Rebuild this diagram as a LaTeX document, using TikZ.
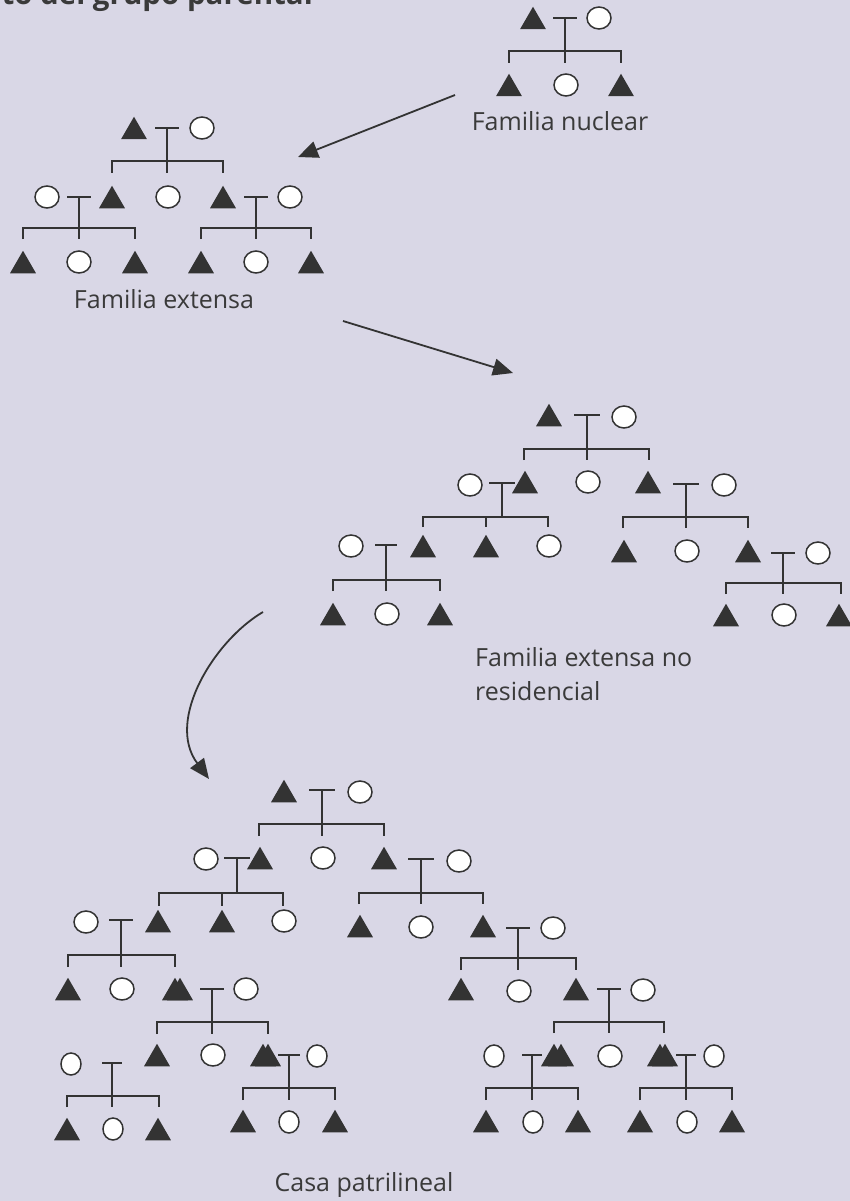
\documentclass[tikz,border=0pt]{standalone}
\usepackage{fontspec}
\setmainfont{Open Sans}
\usetikzlibrary{shapes.geometric,arrows.meta}
\definecolor{bgc}{RGB}{217,215,230}
\definecolor{ink}{RGB}{51,51,51}
\definecolor{txt}{RGB}{58,58,58}
\tikzset{
  x=1pt, y=-1pt,
  man/.style={regular polygon, regular polygon sides=3, minimum size=30pt, inner sep=0pt, fill=ink, yshift=-3.75pt},
  woman/.style={ellipse, minimum width=24pt, minimum height=22pt, inner sep=0pt, draw=ink, line width=1.5pt, fill=white},
  narrow/.style={minimum width=20pt},
  kin/.style={draw=ink, line width=1.8pt},
  arr/.style={draw=ink, line width=1.8pt, -{Triangle[length=20pt,width=17pt]}},
  lbl/.style={font=\fontsize{25}{30}\selectfont, text=txt, inner sep=0pt},
  ttl/.style={font=\fontsize{29.5}{34}\selectfont\bfseries, text=txt, inner sep=0pt}
}
\newcommand\myM[3]{\node[man] (#1) at (#2,#3) {};}
\newcommand\myW[3]{\node[woman] (#1) at (#2,#3) {};}
\newcommand\myWn[3]{\node[woman,narrow] (#1) at (#2,#3) {};}
% Tx Ty halfbar sibY dropY L Mid R
\newcommand\kinfam[8]{%
  \draw[kin] (#1-#3,#2) -- (#1+#3,#2);
  \draw[kin] (#1,#2) -- (#1,#4);
  \draw[kin] (#6,#5) -- (#6,#4) -- (#8,#4) -- (#8,#5);
  \draw[kin] (#7,#4) -- (#7,#5);}
\begin{document}
\begin{tikzpicture}
\useasboundingbox (0,0) rectangle (850,1201);
\fill[bgc] (0,0) rectangle (850,1201);
\clip (0,0) rectangle (850,1201);
\node[ttl, anchor=base east] (title) at (313,5) {Crecimiento del grupo parental};

% ---------- Familia nuclear ----------
\kinfam{565}{18}{12}{51}{63}{509}{565}{621}
\myM{n1}{533}{18} \myW{n2}{599}{18}
\myM{n3}{509}{85} \myW{n4}{566}{85} \myM{n5}{621}{85}
\node[lbl, anchor=base] (ln) at (560,131) {Familia nuclear};

% ---------- Familia extensa ----------
\kinfam{167}{128}{12}{161}{173}{112}{167}{223}
\kinfam{79}{197}{12}{228}{239}{23}{79}{135}
\kinfam{256}{197}{12}{228}{239}{201}{256}{311}
\myM{e1}{134}{128} \myW{e2}{202}{128}
\myM{e3}{112}{197} \myW{e4}{168}{197} \myM{e5}{223}{197}
\myW{e6}{47}{197} \myW{e10}{290}{197}
\myM{e7}{23}{262} \myW{e8}{79}{262} \myM{e9}{135}{262}
\myM{e11}{201}{262} \myW{e12}{256}{262} \myM{e13}{311}{262}
\node[lbl, anchor=base] (le) at (164,308) {Familia extensa};

% ---------- Familia extensa no residencial ----------
\kinfam{587}{415}{13}{449}{460}{524}{587}{649}
\kinfam{502}{483}{13}{517}{527}{423}{486}{548}
\kinfam{386}{545}{11}{580}{591}{333}{386}{440}
\kinfam{686}{484}{13}{517}{528}{623}{686}{748}
\kinfam{783}{553}{12}{583}{594}{726}{783}{841}
\myM{r1}{549}{415} \myW{r2}{624}{417}
\myM{r3}{525}{482} \myW{r4}{588}{482} \myM{r5}{648}{482}
\myW{r6}{470}{485} \myW{r14}{724}{485}
\myM{r7}{423}{546} \myM{r8}{486}{546} \myW{r9}{549}{546}
\myW{r10}{351}{546}
\myM{r11}{333}{614} \myW{r12}{387}{614} \myM{r13}{440}{614}
\myM{r15}{624}{551} \myW{r16}{687}{551} \myM{r17}{748}{551}
\myW{r18}{818}{553}
\myM{r19}{726}{615} \myW{r20}{784}{615} \myM{r21}{839}{615}
\node[lbl, anchor=base west] (lr1) at (475,666) {Familia extensa no};
\node[lbl, anchor=base west] (lr2) at (475,700) {residencial};

% ---------- Casa patrilineal ----------
\kinfam{322}{790}{13}{824}{836}{259}{322}{384}
\kinfam{237}{858}{13}{893}{906}{159}{222}{283}
\kinfam{121}{920}{12}{955}{967}{68}{121}{175}
\kinfam{212}{989}{12}{1022}{1034}{157}{212}{268}
\kinfam{289}{1055}{11}{1088}{1100}{243}{289}{335}
\kinfam{112}{1063}{10}{1096}{1107}{67}{112}{159}
\kinfam{421}{859}{13}{893}{904}{359}{421}{483}
\kinfam{518}{928}{12}{958}{970}{461}{518}{576}
\kinfam{609}{989}{12}{1022}{1033}{554}{609}{664}
\kinfam{532}{1055}{10}{1088}{1100}{486}{532}{578}
\kinfam{686}{1055}{10}{1088}{1100}{640}{686}{732}
\myM{c1}{284}{791} \myW{c2}{360}{792}
\myM{c3}{260}{858} \myW{c4}{323}{858} \myM{c5}{384}{858}
\myW{c6}{206}{859}
\myM{c7}{158}{921} \myM{c8}{222}{921} \myW{c9}{284}{921}
\myW{c10}{86}{922}
\myM{c11}{68}{989} \myW{c12}{122}{989} \myM{c13}{175}{989} \myM{c14}{180}{989}
\myW{c15}{246}{989}
\myM{c16}{157}{1055} \myW{c17}{213}{1055} \myM{c18}{263}{1055} \myM{c19}{268}{1055}
\myWn{c20}{317}{1056}
\myM{c21}{243}{1121} \myWn{c22}{289}{1122} \myM{c23}{335}{1121}
\myWn{c24}{71}{1064}
\myM{c25}{67}{1129} \myWn{c26}{113}{1129} \myM{c27}{158}{1129}
\myW{c28}{459}{861}
\myM{c29}{360}{926} \myW{c30}{421}{927} \myM{c31}{483}{926}
\myW{c32}{553}{928}
\myM{c33}{461}{989} \myW{c34}{519}{991} \myM{c35}{576}{989}
\myW{c36}{643}{990}
\myM{c37}{554}{1055} \myM{c38}{561}{1055} \myW{c39}{610}{1056} \myM{c40}{660}{1055} \myM{c41}{665}{1055}
\myWn{c42}{494}{1056}
\myM{c43}{486}{1121} \myWn{c44}{533}{1122} \myM{c45}{578}{1121}
\myWn{c46}{714}{1056}
\myM{c47}{640}{1121} \myWn{c48}{687}{1122} \myM{c49}{732}{1121}
\node[lbl, anchor=base] (lc) at (364,1191) {Casa patrilineal};

% ---------- arrows ----------
\coordinate (a1s) at (455,95); \coordinate (a1e) at (298,157);
\coordinate (a2s) at (343,321); \coordinate (a2e) at (513,373);
\coordinate (a3s) at (263,612); \coordinate (a3e) at (209,779);
\draw[arr] (a1s) -- (a1e);
\draw[arr] (a2s) -- (a2e);
\draw[arr] (a3s) .. controls (215,640) and (165,720) .. (a3e);
\end{tikzpicture}
\end{document}
